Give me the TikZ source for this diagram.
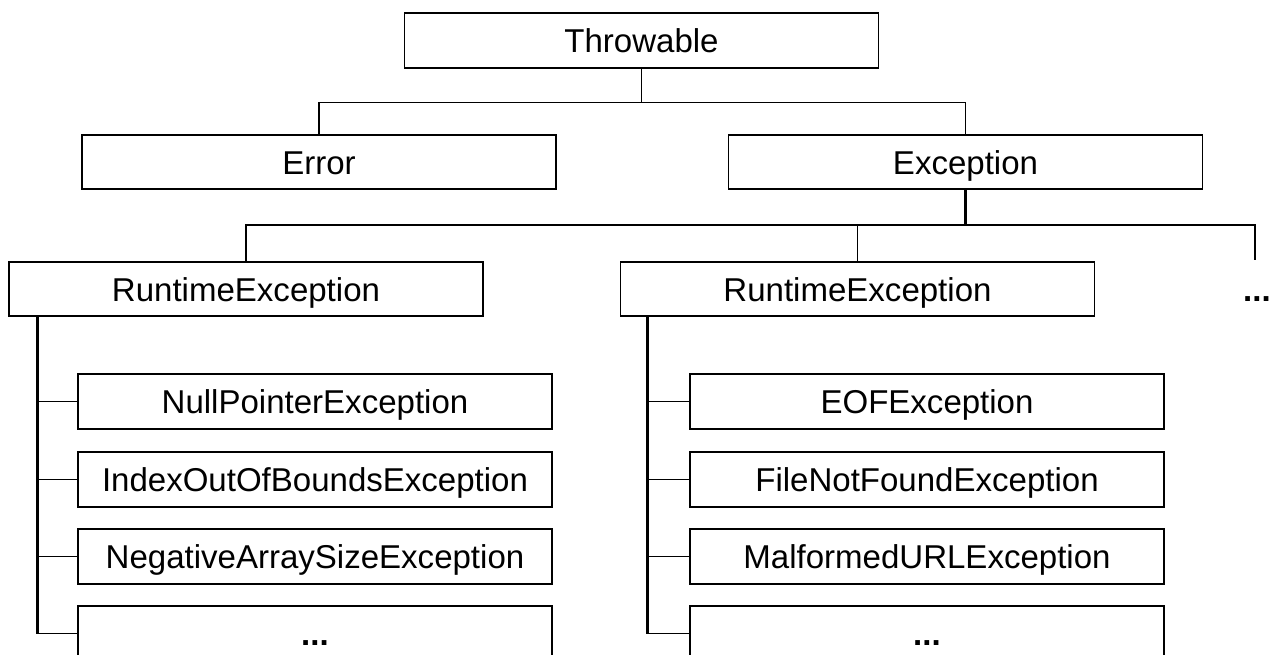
\documentclass[tikz,border=0pt]{standalone}
\usepackage{fontspec}
\setmainfont{Liberation Sans}
\begin{document}
\begin{tikzpicture}[
  x=0.02cm, y=-0.02cm,
  cls/.style={draw, line width=0.9pt, minimum width=9.48cm, minimum height=1.09cm,
    inner sep=0pt, text height=14.2pt, text depth=0pt,
    font=\fontsize{18.8}{20}\selectfont},
  more/.style={inner sep=0pt, text height=14.2pt, text depth=0pt,
    font=\fontsize{18.8}{20}\selectfont\bfseries},
  link/.style={line width=0.9pt},
  trunk/.style={line width=1.6pt}
]
\useasboundingbox (0,0) rectangle (1272,655);
\clip (0,0) rectangle (1272,655);

% root and first level
\node[cls] (thr) at (641.5,40.5) {Throwable};
\node[cls] (err) at (319,162) {Error};
\node[cls] (exc) at (965.5,162) {Exception};

% second level
\node[cls] (re1) at (246,289) {RuntimeException};
\node[cls] (re2) at (857.5,289) {RuntimeException};
\node[more] (dots) at (1257,289) {...};
\coordinate (moretop) at (1255,260);

% children of the first RuntimeException
\node[cls] (npe) at (315,401.5) {NullPointerException};
\node[cls] (ioe) at (315,479.5) {IndexOutOfBoundsException};
\node[cls] (nas) at (315,556.5) {NegativeArraySizeException};
\node[cls] (lm1) at (315,633.5) {\bfseries ...};

% children of the second RuntimeException
\node[cls] (eof) at (927,401.5) {EOFException};
\node[cls] (fnf) at (927,479.5) {FileNotFoundException};
\node[cls] (mue) at (927,556.5) {MalformedURLException};
\node[cls] (lm2) at (927,633.5) {\bfseries ...};

% Throwable -> Error / Exception
\draw[link] (thr.south) -- ++(0,34) coordinate (j1) -| (err.north);
\draw[link] (j1) -| (exc.north);

% Exception -> subclasses
\draw[trunk] (exc.south) -- ++(0,35) coordinate (j2) -- (j2 -| re2.north);
\draw[link] (j2 -| re2.north) -| (re1.north);
\draw[link] (j2 -| re2.north) -- (re2.north);
\draw[link] (j2) -| (moretop);

% left trunk and branches
\coordinate (t1) at ([xshift=29*0.02cm]re1.south west);
\draw[trunk] (t1) -- (t1 |- lm1.west);
\foreach \c in {npe,ioe,nas,lm1} \draw[link] (t1 |- \c.west) -- (\c.west);

% right trunk and branches
\coordinate (t2) at ([xshift=28*0.02cm]re2.south west);
\draw[trunk] (t2) -- (t2 |- lm2.west);
\foreach \c in {eof,fnf,mue,lm2} \draw[link] (t2 |- \c.west) -- (\c.west);
\end{tikzpicture}
\end{document}
